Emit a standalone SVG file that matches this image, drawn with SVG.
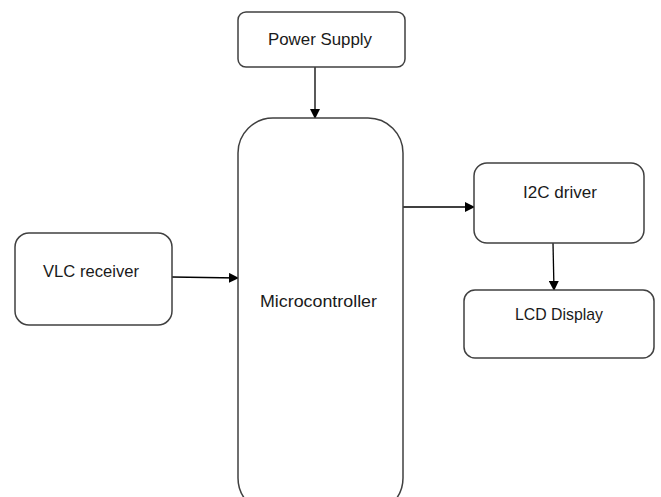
<svg xmlns="http://www.w3.org/2000/svg" width="661" height="497" viewBox="0 0 661 497">
<defs>
<style>
.box{fill:#fff;stroke:#404040;stroke-width:1.5}
.lbl{font-family:"Liberation Sans",Arial,sans-serif;font-size:17px;fill:#1a1a1a;text-anchor:middle}
.con{stroke:#000;stroke-width:1.3;fill:none}
</style>
<marker id="ah" markerWidth="10" markerHeight="10" refX="9" refY="5" orient="auto" markerUnits="userSpaceOnUse">
<path d="M0,0 L10,5 L0,10 Z" fill="#000"/>
</marker>
</defs>
<rect width="661" height="497" fill="#fff"/>
<g id="connectors">
<line class="con" x1="315" y1="67" x2="315" y2="118" marker-end="url(#ah)"/>
<line class="con" x1="172" y1="277" x2="238" y2="278" marker-end="url(#ah)"/>
<line class="con" x1="403" y1="207" x2="474" y2="207" marker-end="url(#ah)"/>
<line class="con" x1="553" y1="243" x2="554" y2="290" marker-end="url(#ah)"/>
</g>
<g id="power-supply">
<rect class="box" x="238" y="12" width="167" height="55" rx="8"/>
<text class="lbl" x="320" y="45" textLength="104" lengthAdjust="spacingAndGlyphs">Power Supply</text>
</g>
<g id="microcontroller">
<rect class="box" x="238" y="118" width="165" height="395" rx="35"/>
<text class="lbl" x="318.5" y="307" textLength="117" lengthAdjust="spacingAndGlyphs">Microcontroller</text>
</g>
<g id="vlc-receiver">
<rect class="box" x="15" y="233" width="157" height="92" rx="14"/>
<text class="lbl" x="91" y="277" textLength="96" lengthAdjust="spacingAndGlyphs">VLC receiver</text>
</g>
<g id="i2c-driver">
<rect class="box" x="474" y="163" width="170" height="80" rx="13"/>
<text class="lbl" x="560" y="198" textLength="74" lengthAdjust="spacingAndGlyphs">I2C driver</text>
</g>
<g id="lcd-display">
<rect class="box" x="464" y="290" width="190" height="68" rx="11"/>
<text class="lbl" x="559" y="320" textLength="88" lengthAdjust="spacingAndGlyphs">LCD Display</text>
</g>
</svg>
